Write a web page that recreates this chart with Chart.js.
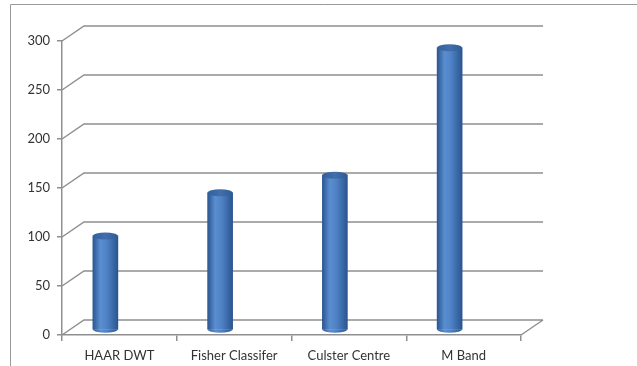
<!DOCTYPE html>
<html>
<head>
<meta charset="utf-8">
<script src="https://cdn.jsdelivr.net/npm/chart.js@4/dist/chart.umd.min.js"></script>
<style>
  html, body { margin: 0; padding: 0; background: #fff; }
  #wrap { width: 637px; height: 366px; }
</style>
</head>
<body>
<div id="wrap"><canvas id="c" width="637" height="366"></canvas></div>
<script>
// data
const categories = ['HAAR DWT', 'Fisher Classifer', 'Culster Centre', 'M Band'];
const values = [96, 140, 158, 288];
const yTicks = [0, 50, 100, 150, 200, 250, 300];

// fake 3d depth: back wall offset and where the cylinders sit
const DEPTH = { dx: 22, dy: -15 };
const CYL = { dx: -14, dy: -5, ry: 3.5 };
const GRID = '#8f8f8f';

function cylGradient(ctx, x, w) {
  const g = ctx.createLinearGradient(x - w / 2, 0, x + w / 2, 0);
  g.addColorStop(0, '#2c5692');
  g.addColorStop(0.3, '#5a8ed0');
  g.addColorStop(0.55, '#4f83c6');
  g.addColorStop(1, '#2b5590');
  return g;
}

// outer frame + back wall grid lines
const backGrid = {
  id: 'backGrid',
  beforeDraw(chart) {
    const { ctx } = chart;
    ctx.save();
    ctx.fillStyle = '#fff';
    ctx.fillRect(0, 0, chart.width, chart.height);
    ctx.strokeStyle = '#9a9a9a';
    ctx.lineWidth = 1;
    ctx.beginPath();
    ctx.moveTo(10.5, chart.height);
    ctx.lineTo(10.5, 4.5);
    ctx.lineTo(chart.width, 4.5);
    ctx.stroke();
    ctx.restore();
  },
  beforeDatasetsDraw(chart) {
    const { ctx, chartArea: a, scales: { y } } = chart;
    ctx.save();
    ctx.strokeStyle = GRID;
    ctx.lineWidth = 1.5;
    ctx.beginPath();
    y.ticks.forEach(t => {
      const py = y.getPixelForValue(t.value);
      ctx.moveTo(a.left, py);
      ctx.lineTo(a.left + DEPTH.dx, py + DEPTH.dy);
      ctx.lineTo(a.right + DEPTH.dx, py + DEPTH.dy);
    });
    // right edge of the floor
    ctx.moveTo(a.right, a.bottom);
    ctx.lineTo(a.right + DEPTH.dx, a.bottom + DEPTH.dy);
    ctx.stroke();
    ctx.restore();
    // bars are drawn shifted into the depth
    ctx.save();
    ctx.translate(CYL.dx, CYL.dy);
  },
  afterDatasetsDraw(chart) {
    const { ctx } = chart;
    const meta = chart.getDatasetMeta(0);
    meta.data.forEach(el => {
      const w = el.width;
      // rounded bottom
      ctx.beginPath();
      ctx.ellipse(el.x, el.base, w / 2, CYL.ry, 0, 0, Math.PI);
      ctx.fillStyle = cylGradient(ctx, el.x, w);
      ctx.fill();
      // top cap
      ctx.beginPath();
      ctx.ellipse(el.x, el.y, w / 2, CYL.ry, 0, 0, Math.PI * 2);
      const g = ctx.createLinearGradient(el.x - w / 2, 0, el.x + w / 2, 0);
      g.addColorStop(0, '#33609c');
      g.addColorStop(0.5, '#426fac');
      g.addColorStop(1, '#2f5b95');
      ctx.fillStyle = g;
      ctx.fill();
    });
    ctx.restore();
  },
};

new Chart(document.getElementById('c'), {
  type: 'bar',
  data: {
    labels: categories,
    datasets: [{
      data: values,
      barThickness: 25,
      borderWidth: 0,
      backgroundColor: (c) => {
        const ch = c.chart;
        if (!ch.chartArea) return '#4f81bd';
        const x = ch.scales.x.getPixelForValue(c.dataIndex);
        return cylGradient(ch.ctx, x, 25);
      },
    }],
  },
  options: {
    responsive: false,
    animation: false,
    layout: { padding: { top: 41, right: 116, left: 0, bottom: 0 } },
    plugins: { legend: { display: false }, tooltip: { enabled: false } },
    scales: {
      x: {
        grid: { offset: true, drawOnChartArea: false, tickLength: 6, color: GRID, lineWidth: 1.5 },
        border: { display: true, color: GRID, width: 1.5 },
        ticks: { padding: 7, color: '#333', font: { family: 'Lato', size: 13 } },
        afterFit: (s) => { s.height = 31; },
      },
      y: {
        min: 0,
        max: 300,
        afterBuildTicks: (s) => { s.ticks = yTicks.map(v => ({ value: v })); },
        grid: { drawOnChartArea: false, tickLength: 5, color: GRID, lineWidth: 1.5 },
        border: { display: true, color: GRID, width: 1.5 },
        ticks: { padding: 7, color: '#333', font: { family: 'Lato', size: 13 } },
        afterFit: (s) => { s.width = 62; },
      },
    },
  },
  plugins: [backGrid],
});
</script>
</body>
</html>
